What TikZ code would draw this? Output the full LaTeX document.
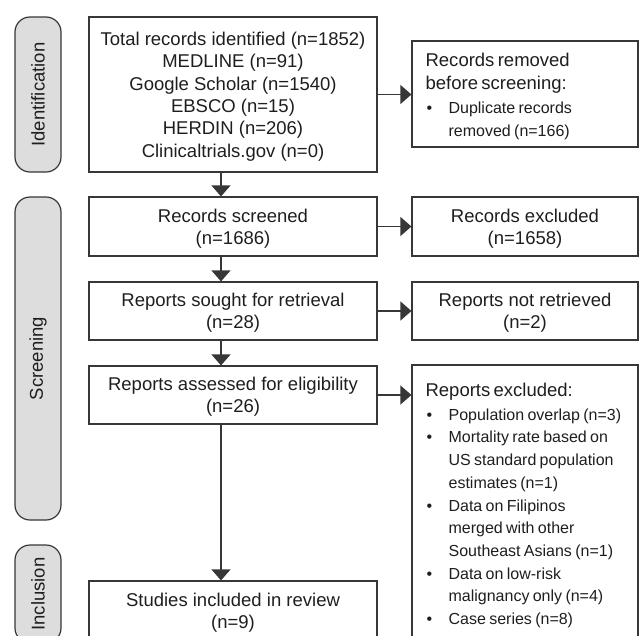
\documentclass[tikz,border=0pt]{standalone}
\usepackage{fontspec}
\setmainfont{Liberation Sans}
\usetikzlibrary{arrows.meta}
\definecolor{linec}{RGB}{55,55,55}
\definecolor{pillfill}{RGB}{221,221,221}
\definecolor{textc}{RGB}{30,30,30}
\newcommand\mainsz{\fontsize{18.5}{22.4}\selectfont}
\newcommand\smsz{\fontsize{16}{22.7}\selectfont}
\newcommand\bl{\makebox[23pt][l]{\hspace{1pt}\textbullet}}
\newcommand\ind{\hspace*{23pt}}
\tikzset{
  box/.style={draw=linec, line width=1.2pt, rectangle, inner sep=0pt, align=center, font=\mainsz, text=textc, text depth=0pt},
  pill/.style={draw=linec, fill=pillfill, line width=1.2pt, rounded corners=15pt, rotate=90, minimum height=46pt, inner sep=0pt, font=\mainsz, text=textc},
  txt/.style={inner sep=0pt, text width=210pt, align=left, text=textc},
  flow/.style={draw=linec, line width=1.2pt, -{Triangle[length=11pt,width=19pt]}}
}
\begin{document}
\begin{tikzpicture}[x=1pt,y=-1pt]
\useasboundingbox (0,0) rectangle (639,635);
\clip (0,0) rectangle (639,635);
% phase pills
\node[pill, minimum width=155pt] (p1) at (38,94.5) {Identification};
\node[pill, minimum width=323pt] (p2) at (38,358.5) {Screening};
\node[pill, minimum width=98pt] (p3) at (38,594) {Inclusion};
% main column
\node[box, minimum width=288pt, minimum height=155pt] (b1) at (233,94.5) {Total records identified (n=1852)\\ MEDLINE (n=91)\\ Google Scholar (n=1540)\\ EBSCO (n=15)\\ HERDIN (n=206)\\ Clinicaltrials.gov (n=0)};
\node[box, minimum width=288pt, minimum height=59pt] (b2) at (233,226.5) {Records screened\\ (n=1686)};
\node[box, minimum width=288pt, minimum height=58pt] (b3) at (233,311) {Reports sought for retrieval\\ (n=28)};
\node[box, minimum width=288pt, minimum height=58pt] (b4) at (233,395) {Reports assessed for eligibility\\ (n=26)};
\node[box, minimum width=288pt, minimum height=60pt] (b5) at (233,611) {Studies included in review\\ (n=9)};
% right column
\node[box, minimum width=226pt, minimum height=106pt] (r1) at (525,94) {};
\node[txt, anchor=west] (t1) at ([xshift=14pt,yshift=-2.5pt]r1.west) {\mainsz Records removed\\ before screening:\par\vspace{2pt}\smsz\bl Duplicate records\\\ind removed (n=166)\par};
\node[box, minimum width=226pt, minimum height=59pt] (r2) at (525,226.5) {Records excluded\\ (n=1658)};
\node[box, minimum width=226pt, minimum height=58pt] (r3) at (525,311) {Reports not retrieved\\ (n=2)};
\node[box, minimum width=226pt, minimum height=276pt] (r4) at (525,503) {};
\node[txt, anchor=west] (t4) at ([xshift=14pt,yshift=-2.5pt]r4.west) {\mainsz Reports excluded:\par\vspace{1pt}\smsz
\bl Population overlap (n=3)\\
\bl Mortality rate based on\\\ind US standard population\\\ind estimates (n=1)\\
\bl Data on Filipinos\\\ind merged with other\\\ind Southeast Asians (n=1)\\
\bl Data on low-risk\\\ind malignancy only (n=4)\\
\bl Case series (n=8)\par};
% connectors
\coordinate (ax) at (221,0);
\draw[flow] (b1.south -| ax) -- (b2.north -| ax);
\draw[flow] (b2.south -| ax) -- (b3.north -| ax);
\draw[flow] (b3.south -| ax) -- (b4.north -| ax);
\draw[flow] (b4.south -| ax) -- (b5.north -| ax);
\draw[flow] (b1.east) -- (b1.east -| r1.west);
\draw[flow] (b2.east) -- (b2.east -| r2.west);
\draw[flow] (b3.east) -- (b3.east -| r3.west);
\draw[flow] (b4.east) -- (b4.east -| r4.west);
\end{tikzpicture}
\end{document}
